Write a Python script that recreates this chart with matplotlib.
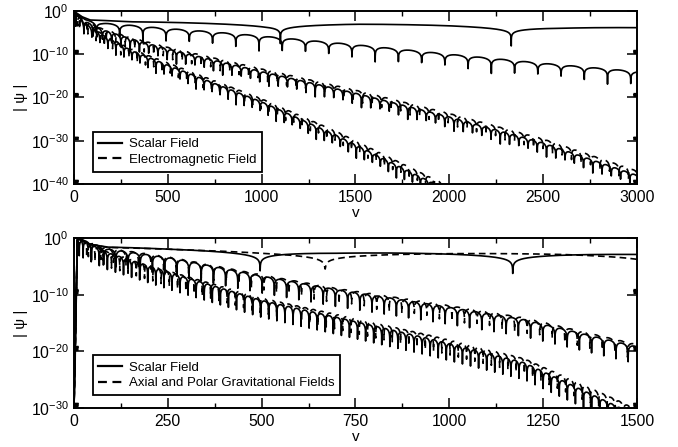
import numpy as np
import matplotlib
matplotlib.use("Agg")
import matplotlib.pyplot as plt
from matplotlib.ticker import FixedLocator, MultipleLocator, LogFormatterSciNotation, NullFormatter

plt.rcParams['font.family'] = ['Liberation Sans', 'DejaVu Sans']
plt.rcParams['mathtext.fontset'] = 'custom'
plt.rcParams['mathtext.rm'] = 'Liberation Sans'
plt.rcParams['mathtext.it'] = 'Liberation Sans:italic'
plt.rcParams['mathtext.default'] = 'regular'

# ---------------- upper panel (v up to 3000) ----------------
# envelope knots: v and log10 of the peak |psi|
# zero0 / zspace: first cusp (zero crossing) and spacing between cusps, floor: cusp depth in decades
top_s1_v  = [0, 40, 85, 300, 1000, 1500, 2000, 2600, 3000]
top_s1_lg = [0.45, -0.9, -1.8, -2.45, -3.05, -3.0, -3.3, -3.8, -3.85]
top_s1_zero0, top_s1_zspace, top_s1_floor = 1100, 1230, 4.5

top_s2_v  = [0, 60, 150, 300, 450, 700, 950, 1500, 2000, 2500, 3000]
top_s2_lg = [0, -2.0, -2.8, -3.3, -3.9, -4.7, -5.6, -7.8, -10.0, -12.1, -14.0]
top_s2_zero0, top_s2_zspace, top_s2_floor = 119.4, 123.8, 3.5

top_s3_v  = [0, 50, 150, 300, 500, 1000, 1500, 2000, 2500, 3000]
top_s3_lg = [0, -2.2, -4.3, -6.4, -8.8, -14.0, -19.0, -24.5, -30.5, -38.0]
top_s3_zero0, top_s3_zspace, top_s3_floor = 3.7, 49.3, 3.0
top_e3_lg = [0, -2.1, -4.1, -6.1, -8.4, -13.4, -18.3, -23.7, -29.6, -37.0]
top_e3_zero0, top_e3_zspace, top_e3_floor = 20.0, 50.6, 2.6

top_s4_v  = [0, 50, 150, 300, 500, 1000, 1400, 1900, 2000]
top_s4_lg = [0, -2.6, -5.5, -9.0, -12.5, -21.0, -28.8, -39.5, -41.5]
top_s4_zero0, top_s4_zspace, top_s4_floor = 10.0, 42.7, 3.0
top_e4_lg = [0, -2.5, -5.3, -8.7, -12.0, -20.3, -27.9, -38.5, -40.5]
top_e4_zero0, top_e4_zspace, top_e4_floor = 30.0, 43.9, 2.6

top_labels = ['Scalar Field', 'Electromagnetic Field']

# ---------------- lower panel (v up to 1500) ----------------
bot_s1_v  = [0, 9, 40, 87, 264, 500, 700, 950, 1300, 1500]
bot_s1_lg = [-30, 0, -1.0, -1.57, -1.95, -2.3, -2.6, -2.68, -2.8, -2.9]
bot_s1_zero0, bot_s1_zspace, bot_s1_floor = 496, 673, 3.5
bot_g1_v  = [0, 9, 40, 87, 264, 500, 700, 1040, 1300, 1500]
bot_g1_lg = [-30, 0, -1.0, -1.6, -2.0, -2.45, -2.7, -2.73, -2.79, -3.0]
bot_g1_zero0, bot_g1_zspace, bot_g1_floor = 669, 880, 2.8

bot_s2_v  = [0, 9, 87, 176, 265, 500, 700, 950, 1200, 1500]
bot_s2_lg = [-30, 0, -1.9, -2.75, -3.6, -6.7, -9.1, -11.7, -14.4, -19.2]
bot_s2_zero0, bot_s2_zspace, bot_s2_floor = 14.0, 32.5, 3.0
bot_g2_lg = [-30, 0, -1.8, -2.6, -3.5, -6.5, -8.9, -11.4, -14.1, -18.8]
bot_g2_zero0, bot_g2_zspace, bot_g2_floor = 5.0, 33.4, 2.6

bot_s3_v  = [0, 9, 90, 265, 500, 700, 950, 1200, 1450, 1550]
bot_s3_lg = [-30, 0, -2.6, -6.3, -11.0, -14.0, -17.8, -22.0, -29.8, -33.0]
bot_s3_zero0, bot_s3_zspace, bot_s3_floor = 3.0, 21.5, 3.0
bot_g3_lg = [-30, 0, -2.5, -6.1, -10.6, -13.5, -17.2, -21.3, -28.7, -32.0]
bot_g3_zero0, bot_g3_zspace, bot_g3_floor = 12.0, 22.0, 2.6

bot_labels = ['Scalar Field', 'Axial and Polar Gravitational Fields']


def ringing(v, knot_v, knot_lg, zero0, zspace, floor):
    # |psi| = envelope * |sin|, with the cusps cut at `floor` decades
    env = np.interp(v, knot_v, knot_lg)
    osc = np.log10(np.abs(np.sin(np.pi * (v - zero0) / zspace)) + 1e-300)
    return 10.0 ** (env + np.maximum(osc, -floor))


def style_axes(ax, xmax, xmajor, ymin_exp, decades):
    ax.set_yscale('log')
    ax.set_xlim(0, xmax)
    ax.set_ylim(10.0 ** ymin_exp, 1.0)
    ax.xaxis.set_major_locator(MultipleLocator(xmajor))
    ax.xaxis.set_minor_locator(MultipleLocator(xmajor / 2))
    ax.yaxis.set_major_locator(FixedLocator([10.0 ** (-d) for d in range(0, -ymin_exp + 1, 10)]))
    ax.yaxis.set_major_formatter(LogFormatterSciNotation())
    ax.yaxis.set_minor_locator(FixedLocator([k * 10.0 ** (-d) for d in decades for k in range(2, 10)]))
    ax.yaxis.set_minor_formatter(NullFormatter())
    ax.tick_params(which='both', direction='in', top=True, right=True, labelsize=11.3, pad=4)
    ax.tick_params(which='major', length=7.2, width=1.1)
    ax.tick_params(axis='x', which='minor', length=3.8, width=1.0)
    ax.tick_params(axis='y', which='minor', length=3.2, width=0.9)
    for sp in ax.spines.values():
        sp.set_linewidth(1.4)
    ax.set_xlabel('v', fontsize=11, labelpad=1)
    ax.set_ylabel('| ψ |', fontsize=11, labelpad=2)


fig = plt.figure(figsize=(6.78, 4.47), dpi=100)
ax1 = fig.add_axes([0.1091, 0.5884, 0.8304, 0.3870])
ax2 = fig.add_axes([0.1091, 0.0872, 0.8304, 0.3803])

lw = 1.2
dash = (4, 2.5)

v_top = np.arange(0, 3000.01, 0.25)
ax1.plot(v_top, ringing(v_top, top_s3_v, top_e3_lg, top_e3_zero0, top_e3_zspace, top_e3_floor),
         color='black', lw=lw, dashes=dash)
ax1.plot(v_top, ringing(v_top, top_s4_v, top_e4_lg, top_e4_zero0, top_e4_zspace, top_e4_floor),
         color='black', lw=lw, dashes=dash, label=top_labels[1])
ax1.plot(v_top, ringing(v_top, top_s1_v, top_s1_lg, top_s1_zero0, top_s1_zspace, top_s1_floor),
         color='black', lw=lw, label=top_labels[0])
ax1.plot(v_top, ringing(v_top, top_s2_v, top_s2_lg, top_s2_zero0, top_s2_zspace, top_s2_floor),
         color='black', lw=lw)
ax1.plot(v_top, ringing(v_top, top_s3_v, top_s3_lg, top_s3_zero0, top_s3_zspace, top_s3_floor),
         color='black', lw=lw)
ax1.plot(v_top, ringing(v_top, top_s4_v, top_s4_lg, top_s4_zero0, top_s4_zspace, top_s4_floor),
         color='black', lw=lw)

v_bot = np.arange(0, 1500.01, 0.125)
ax2.plot(v_bot, ringing(v_bot, bot_g1_v, bot_g1_lg, bot_g1_zero0, bot_g1_zspace, bot_g1_floor),
         color='black', lw=lw, dashes=dash, label=bot_labels[1])
ax2.plot(v_bot, ringing(v_bot, bot_s2_v, bot_g2_lg, bot_g2_zero0, bot_g2_zspace, bot_g2_floor),
         color='black', lw=lw, dashes=dash)
ax2.plot(v_bot, ringing(v_bot, bot_s3_v, bot_g3_lg, bot_g3_zero0, bot_g3_zspace, bot_g3_floor),
         color='black', lw=lw, dashes=dash)
ax2.plot(v_bot, ringing(v_bot, bot_s1_v, bot_s1_lg, bot_s1_zero0, bot_s1_zspace, bot_s1_floor),
         color='black', lw=lw, label=bot_labels[0])
ax2.plot(v_bot, ringing(v_bot, bot_s2_v, bot_s2_lg, bot_s2_zero0, bot_s2_zspace, bot_s2_floor),
         color='black', lw=lw)
ax2.plot(v_bot, ringing(v_bot, bot_s3_v, bot_s3_lg, bot_s3_zero0, bot_s3_zspace, bot_s3_floor),
         color='black', lw=lw)

style_axes(ax1, 3000, 500, -40, [10, 20, 30, 40])
style_axes(ax2, 1500, 250, -30, [10, 20, 30])

for ax, anchor in ((ax1, (0.033, 0.071)), (ax2, (0.033, 0.076))):
    handles, labels = ax.get_legend_handles_labels()
    order = [labels.index(l) for l in (top_labels if ax is ax1 else bot_labels)]
    leg = ax.legend([handles[i] for i in order], [labels[i] for i in order],
                    loc='lower left', bbox_to_anchor=anchor, borderaxespad=0,
                    fontsize=9.5, frameon=True, fancybox=False, framealpha=1,
                    edgecolor='black', handlelength=1.8, handletextpad=0.5,
                    labelspacing=0.25, borderpad=0.45)
    leg.get_frame().set_linewidth(1.3)
    for ln in leg.get_lines():
        ln.set_linewidth(1.6)

fig.savefig('out.png', dpi=100)
